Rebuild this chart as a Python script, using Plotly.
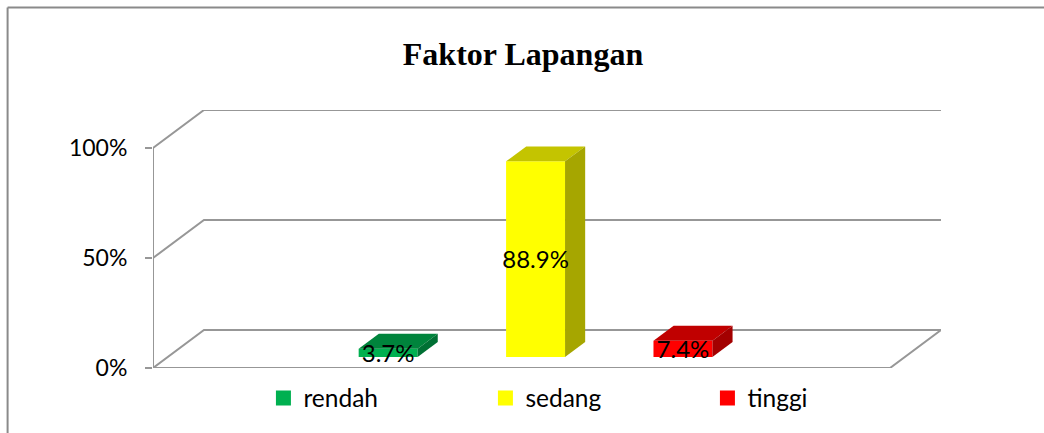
import plotly.graph_objects as go

# ---- data ----
categories = ["rendah", "sedang", "tinggi"]
values = [3.7, 88.9, 7.4]
positions = [1.495, 2.495, 3.495]
y_ticks = [0, 50, 100]
y_tick_labels = ["0%", "50%", "100%"]
title_text = "Faktor Lapangan"

front_colors = ["#00B050", "#FFFF00", "#FF0000"]
top_colors = ["#00843C", "#C4C400", "#C00000"]
side_colors = ["#007034", "#A6A600", "#A30000"]

# ---- oblique projection of the depth axis ----
N_SLOTS = 5
DEPTH_X = 0.3458      # x units for full floor depth
DEPTH_Y = 17.25       # % units for full floor depth
BAR_W = 0.4
D0, D1 = 0.29, 0.685  # depth span of the bars

GRID = "#979797"


def proj(x, y, d):
    return x + d * DEPTH_X, y + d * DEPTH_Y


fig = go.Figure()


def line(points):
    xs, ys = zip(*[proj(*p) for p in points])
    fig.add_trace(go.Scatter(x=xs, y=ys, mode="lines", showlegend=False, hoverinfo="skip",
                             cliponaxis=False, zorder=0,
                             line=dict(color=GRID, width=2)))


# walls and floor
for v in y_ticks:
    line([(0, v, 0), (0, v, 1), (N_SLOTS, v, 1)])
line([(0, 0, 0), (0, 100, 0)])
line([(0, 0, 0), (N_SLOTS, 0, 0), (N_SLOTS, 0, 1)])


def poly(points, color):
    xs, ys = zip(*[proj(*p) for p in points])
    fig.add_trace(go.Scatter(x=xs + xs[:1], y=ys + ys[:1], mode="lines", fill="toself",
                             fillcolor=color, line=dict(width=0), showlegend=False,
                             hoverinfo="skip", zorder=2))


for name, pos, v, fc, tc, sc in zip(categories, positions, values,
                                    front_colors, top_colors, side_colors):
    l, r = pos - BAR_W / 2, pos + BAR_W / 2
    fx, fb = proj(pos, 0, D0)
    fig.add_trace(go.Bar(x=[fx], y=[v], base=[fb], width=[BAR_W], marker=dict(color=fc, line=dict(width=0)),
                         showlegend=False, hoverinfo="skip", zorder=1))
    poly([(l, v, D0), (r, v, D0), (r, v, D1), (l, v, D1)], tc)
    poly([(r, 0, D0), (r, v, D0), (r, v, D1), (r, 0, D1)], sc)
    fig.add_trace(go.Scatter(x=[None], y=[None], mode="markers", name=name,
                             marker=dict(symbol="square", size=15, color=fc, line=dict(width=0))))

for pos, v in zip(positions, values):
    tx, ty = proj(pos, v / 2, D0)
    fig.add_trace(go.Scatter(x=[tx], y=[ty - 1.3], mode="text", text=[f"{v:.1f}%"],
                             textposition="middle center", cliponaxis=False, showlegend=False,
                             hoverinfo="skip", zorder=3,
                             textfont=dict(family="Lato", size=24, color="#000000")))

W, H = 1044, 433
ML, MR, MT, MB = 152.5, 103, 109.7, 65
PW, PH = W - ML - MR, H - MT - MB


def px(x):
    return (x - ML) / PW


def py(y):
    return (H - MB - y) / PH


border = dict(type="line", xref="paper", yref="paper", line=dict(color="#8a8a8a", width=2), layer="below")

fig.update_layout(
    width=W, height=H, autosize=False,
    margin=dict(l=ML, r=MR, t=MT, b=MB, pad=0, autoexpand=False),
    paper_bgcolor="white", plot_bgcolor="white",
    title=dict(text=f"<b>{title_text}</b>", x=523 / W, y=1 - 54 / H, xref="container", yref="container",
               xanchor="center", yanchor="middle",
               font=dict(family="Liberation Serif", size=32, color="#000000")),
    xaxis=dict(range=[0, N_SLOTS + DEPTH_X], visible=False),
    yaxis=dict(range=[0, 100 + DEPTH_Y], tickvals=y_ticks, ticktext=y_tick_labels, showgrid=False,
               zeroline=False, showline=False, ticks="outside", ticklen=7, tickwidth=2, tickcolor=GRID,
               ticklabelstandoff=13,
               tickfont=dict(family="Lato", size=23, color="#000000")),
    legend=dict(orientation="h", x=px(263), y=py(398), xanchor="left", yanchor="middle",
                entrywidth=177, entrywidthmode="pixels", itemclick=False, itemdoubleclick=False,
                bgcolor="rgba(0,0,0,0)", font=dict(family="Lato", size=24.5, color="#000000")),
    shapes=[
        dict(border, x0=px(7), x1=px(7), y0=py(7), y1=py(440)),
        dict(border, x0=px(7), x1=px(1050), y0=py(7), y1=py(7)),
    ],
)

fig.write_html("out.html", post_script="document.body.style.margin='0';",
               config={"displayModeBar": False})
